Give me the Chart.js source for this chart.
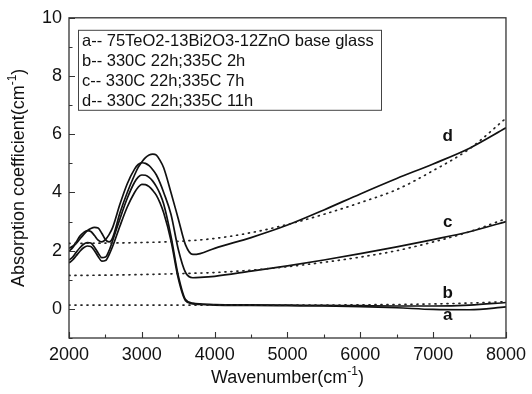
<!DOCTYPE html>
<html>
<head>
<meta charset="utf-8">
<script src="https://cdn.jsdelivr.net/npm/chart.js@4.4.0/dist/chart.umd.min.js"></script>
<style>
  html, body { margin: 0; padding: 0; background: #fff; }
  #wrap { width: 532px; height: 394px; }
</style>
</head>
<body>
<div id="wrap"><canvas id="chart"></canvas></div>
<script>
// measured spectra (cm^-1 vs absorption coefficient)
const wavenumber = [2000, 2050, 2100, 2150, 2200, 2250, 2300, 2350, 2400, 2450, 2500, 2550, 2600,
  2700, 2800, 2900, 2950, 3000, 3050, 3100, 3150, 3200, 3250, 3300, 3400, 3500, 3600, 3700, 3800, 4000,
  4500, 5000, 5500, 6000, 6500, 7000, 7500, 8000];
const curveA = [1.58, 1.68, 1.83, 1.98, 2.10, 2.16, 2.14, 2.00, 1.80, 1.64, 1.66, 1.86, 2.15,
  2.85, 3.50, 4.00, 4.18, 4.28, 4.27, 4.20, 4.07, 3.90, 3.64, 3.30, 2.35, 1.05, 0.28, 0.17, 0.15, 0.13,
  0.12, 0.11, 0.10, 0.08, 0.04, -0.02, -0.03, 0.07];
const curveB = [1.68, 1.78, 1.95, 2.10, 2.22, 2.28, 2.26, 2.12, 1.92, 1.76, 1.78, 2.00, 2.35,
  3.10, 3.80, 4.35, 4.53, 4.60, 4.59, 4.52, 4.39, 4.20, 3.95, 3.60, 2.50, 1.15, 0.32, 0.20, 0.17, 0.15,
  0.14, 0.13, 0.12, 0.11, 0.10, 0.10, 0.13, 0.22];
const curveC = [1.98, 2.10, 2.30, 2.50, 2.62, 2.69, 2.66, 2.52, 2.36, 2.30, 2.38, 2.55, 2.80,
  3.60, 4.30, 4.80, 4.96, 5.02, 5.00, 4.92, 4.78, 4.60, 4.33, 4.00, 3.25, 2.05, 1.25, 1.07, 1.08, 1.12,
  1.30, 1.48, 1.68, 1.90, 2.13, 2.38, 2.65, 3.00];
const curveD = [2.08, 2.15, 2.25, 2.40, 2.55, 2.68, 2.76, 2.80, 2.78, 2.60, 2.38, 2.30, 2.45,
  3.30, 4.00, 4.60, 4.86, 5.05, 5.20, 5.29, 5.32, 5.28, 5.10, 4.85, 4.00, 3.10, 2.20, 1.87, 1.90, 2.08,
  2.45, 2.88, 3.40, 3.95, 4.48, 4.98, 5.52, 6.22];

// dotted baseline fits
const fitWavenumber = [2000, 2500, 3000, 3500, 4000, 4500, 5000, 5500, 6000, 6500, 7000, 7500, 8000];
const fitAB = [0.13, 0.13, 0.13, 0.13, 0.13, 0.13, 0.13, 0.13, 0.14, 0.15, 0.17, 0.20, 0.25];
const fitC = [1.15, 1.16, 1.18, 1.21, 1.25, 1.33, 1.45, 1.60, 1.78, 2.00, 2.30, 2.65, 3.10];
const fitD = [2.25, 2.26, 2.28, 2.32, 2.42, 2.62, 2.90, 3.25, 3.65, 4.10, 4.75, 5.50, 6.55];

const legendLabels = [
  'a-- 75TeO2-13Bi2O3-12ZnO base glass',
  'b-- 330C 22h;335C 2h',
  'c-- 330C 22h;335C 7h',
  'd-- 330C 22h;335C 11h'
];
const curveTags = ['a', 'b', 'c', 'd'];

const ink = '#111';
const font = 'Arial, "Liberation Sans", sans-serif';

function pts(xs, ys) {
  return xs.map((x, i) => ({ x: x, y: ys[i] }));
}

function solid(label, ys) {
  return {
    label: label,
    data: pts(wavenumber, ys),
    borderColor: ink,
    borderWidth: 1.7,
    pointRadius: 0,
    fill: false,
    cubicInterpolationMode: 'monotone'
  };
}

function dotted(label, ys) {
  return {
    label: label,
    data: pts(fitWavenumber, ys),
    borderColor: '#222',
    borderWidth: 1.7,
    borderDash: [1, 5],
    borderCapStyle: 'round',
    pointRadius: 0,
    fill: false,
    cubicInterpolationMode: 'monotone'
  };
}

// frame, inward ticks, legend box, curve tags, axis titles with superscripts
const decorations = {
  id: 'decorations',
  afterDraw(chart) {
    const ctx = chart.ctx;
    const area = chart.chartArea;
    const xs = chart.scales.x;
    const ys = chart.scales.y;
    ctx.save();
    ctx.strokeStyle = '#333';
    ctx.lineWidth = 1.3;
    ctx.strokeRect(area.left, area.top, area.right - area.left, area.bottom - area.top);

    ctx.lineWidth = 1.1;
    ctx.beginPath();
    for (let v = 2000; v <= 8000; v += 500) {
      const px = Math.round(xs.getPixelForValue(v)) + 0.5;
      const len = v % 1000 === 0 ? 6 : 3.5;
      ctx.moveTo(px, area.bottom);
      ctx.lineTo(px, area.bottom - len);
    }
    for (let v = -1; v <= 10; v++) {
      const py = Math.round(ys.getPixelForValue(v)) + 0.5;
      const len = v % 2 === 0 ? 6 : 3.5;
      ctx.moveTo(area.left, py);
      ctx.lineTo(area.left + len, py);
    }
    ctx.stroke();

    // legend
    const bx = area.left + 9, by = area.top + 12, bw = 303, bh = 80;
    ctx.strokeStyle = '#444';
    ctx.lineWidth = 1;
    ctx.strokeRect(bx + 0.5, by + 0.5, bw, bh);
    ctx.fillStyle = ink;
    ctx.font = '16.5px ' + font;
    ctx.textBaseline = 'middle';
    ctx.textAlign = 'left';
    legendLabels.forEach((t, i) => {
      ctx.fillText(t, bx + 4, by + 12 + i * 19.8);
    });

    // curve tags
    const tagAt = [[7200, -0.22], [7200, 0.53], [7200, 2.96], [7200, 5.93]];
    ctx.font = 'bold 17px ' + font;
    ctx.textAlign = 'center';
    curveTags.forEach((t, i) => {
      ctx.fillText(t, xs.getPixelForValue(tagAt[i][0]), ys.getPixelForValue(tagAt[i][1]));
    });

    // axis titles
    function title(main, x, y, rot) {
      ctx.save();
      ctx.translate(x, y);
      ctx.rotate(rot);
      ctx.font = '18px ' + font;
      const w1 = ctx.measureText(main).width;
      ctx.font = '12px ' + font;
      const w2 = ctx.measureText('-1').width;
      ctx.font = '18px ' + font;
      const w3 = ctx.measureText(')').width;
      let cx = -(w1 + w2 + w3) / 2;
      ctx.textAlign = 'left';
      ctx.textBaseline = 'alphabetic';
      ctx.fillText(main, cx, 6);
      cx += w1;
      ctx.font = '12px ' + font;
      ctx.fillText('-1', cx, -2);
      cx += w2;
      ctx.font = '18px ' + font;
      ctx.fillText(')', cx, 6);
      ctx.restore();
    }
    ctx.fillStyle = ink;
    title('Wavenumber(cm', (area.left + area.right) / 2, 377, 0);
    title('Absorption coefficient(cm', 18, (area.top + area.bottom) / 2, -Math.PI / 2);
    ctx.restore();
  }
};

new Chart(document.getElementById('chart'), {
  type: 'line',
  data: {
    datasets: [
      dotted('fit a/b', fitAB),
      dotted('fit c', fitC),
      dotted('fit d', fitD),
      solid('a', curveA),
      solid('b', curveB),
      solid('c', curveC),
      solid('d', curveD)
    ]
  },
  options: {
    responsive: true,
    maintainAspectRatio: false,
    animation: false,
    layout: { padding: { top: 16, right: 23, left: 0, bottom: 0 } },
    plugins: {
      legend: { display: false },
      tooltip: { enabled: false }
    },
    scales: {
      x: {
        type: 'linear',
        min: 2000,
        max: 8000,
        grid: { display: false, drawTicks: false },
        border: { display: false },
        ticks: {
          stepSize: 1000,
          padding: 6,
          color: ink,
          font: { size: 18, family: font },
          callback: v => String(v)
        },
        afterFit(s) { s.height = 56; }
      },
      y: {
        type: 'linear',
        min: -1,
        max: 10,
        grid: { display: false, drawTicks: false },
        border: { display: false },
        ticks: {
          stepSize: 1,
          padding: 7,
          color: ink,
          font: { size: 18, family: font },
          callback: v => (v >= 0 && v % 2 === 0) ? String(v) : ''
        },
        afterFit(s) { s.width = 69; }
      }
    }
  },
  plugins: [decorations]
});
</script>
</body>
</html>
